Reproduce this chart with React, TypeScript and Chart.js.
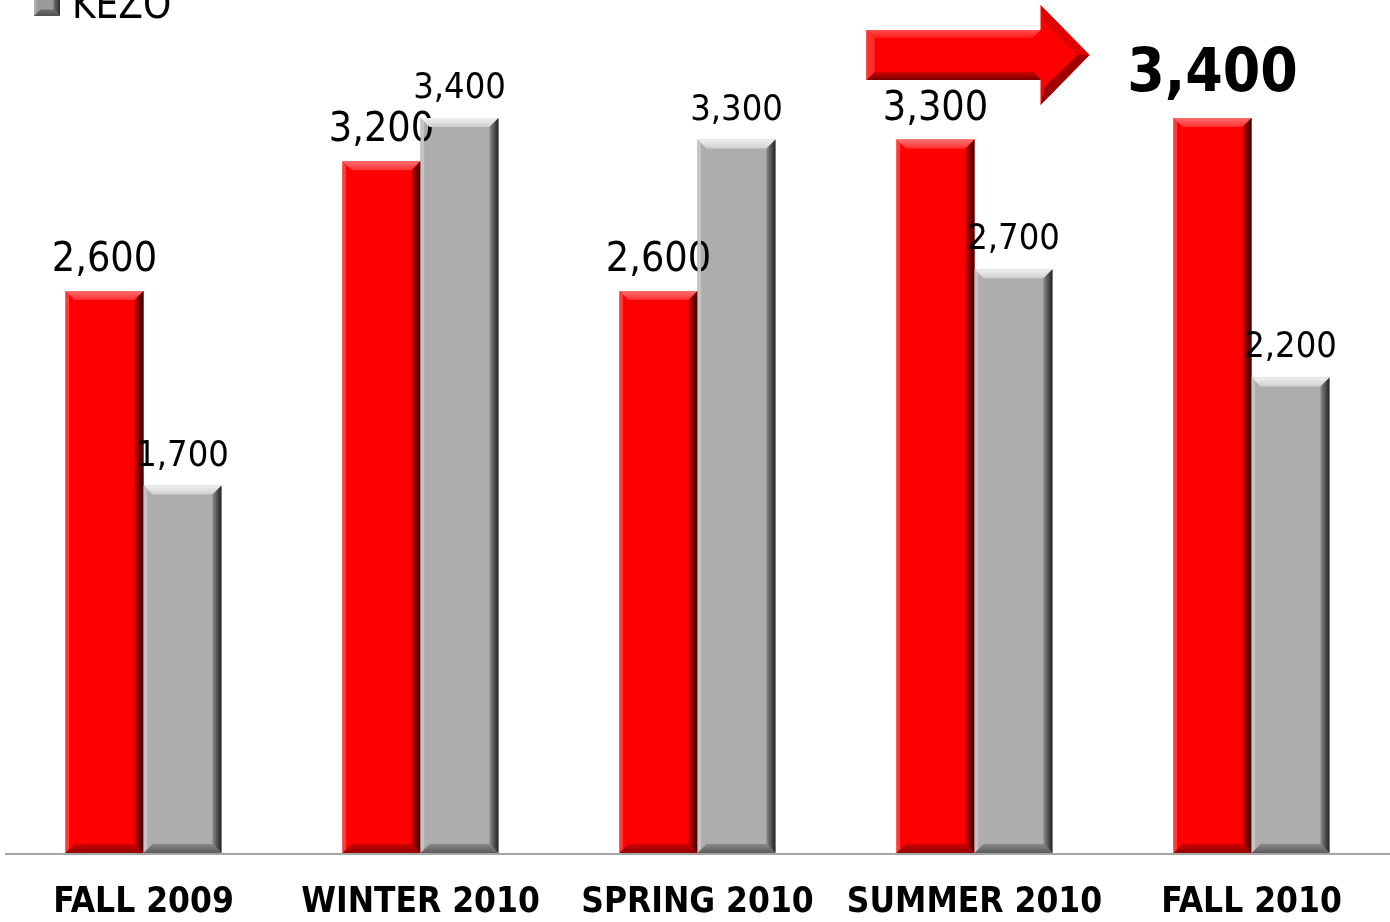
import React, { useEffect, useRef } from "react";
import { Chart, registerables } from "chart.js";

Chart.register(...registerables);

const categories = ["FALL 2009", "WINTER 2010", "SPRING 2010", "SUMMER 2010", "FALL 2010"];
const redValues = [2600, 3200, 2600, 3300, 3400];
const greyValues = [1700, 3400, 3300, 2700, 2200];
const legendLabel = "KEZO";
const highlightLabel = "3,400";

const RED = "#ff0000";
const GREY = "#adadad";
const FONT = "'DejaVu Sans Condensed', 'DejaVu Sans', sans-serif";

function fmt(v: number) {
  return v.toLocaleString("en-US");
}

function poly(ctx: CanvasRenderingContext2D, pts: number[][], fill: any) {
  ctx.beginPath();
  ctx.moveTo(pts[0][0], pts[0][1]);
  for (let i = 1; i < pts.length; i++) ctx.lineTo(pts[i][0], pts[i][1]);
  ctx.closePath();
  ctx.fillStyle = fill;
  ctx.fill();
}

function bevelRect(
  ctx: CanvasRenderingContext2D,
  l: number, t: number, r: number, bt: number,
  pal: { top: string; topEnd: string; left: string; right: string; rightEnd: string; bottom: string }
) {
  const b = Math.min(9, (r - l) / 4, (bt - t) / 2);
  const gt = ctx.createLinearGradient(0, t, 0, t + b);
  gt.addColorStop(0, pal.top);
  gt.addColorStop(1, pal.topEnd);
  poly(ctx, [[l, t], [r, t], [r - b, t + b], [l + b, t + b]], gt);
  poly(ctx, [[l, t], [l + b * 0.4, t + b * 0.4], [l + b * 0.4, bt - b * 0.4], [l, bt]], pal.left);
  const gr = ctx.createLinearGradient(r - b, 0, r, 0);
  gr.addColorStop(0, pal.right);
  gr.addColorStop(1, pal.rightEnd);
  poly(ctx, [[r, t], [r, bt], [r - b, bt - b], [r - b, t + b]], gr);
  const gb = ctx.createLinearGradient(0, bt - b, 0, bt);
  gb.addColorStop(0, pal.right);
  gb.addColorStop(1, pal.bottom);
  poly(ctx, [[l, bt], [r, bt], [r - b, bt - b], [l + b, bt - b]], gb);
}

const redPal = { top: "#ff7070", topEnd: "#ff3030", left: "#ff3a3a", right: "#d00000", rightEnd: "#300000", bottom: "#900000" };
const greyPal = { top: "#f0f0f0", topEnd: "#cfcfcf", left: "#c4c4c4", right: "#8a8a8a", rightEnd: "#202020", bottom: "#5a5a5a" };

const decorPlugin = {
  id: "decor",
  beforeDatasetsDraw(chart: any) {
    const ctx = chart.ctx as CanvasRenderingContext2D;
    const { left, right, bottom } = chart.chartArea;
    ctx.save();
    ctx.strokeStyle = "#a6a6a6";
    ctx.lineWidth = 2;
    ctx.beginPath();
    ctx.moveTo(left, bottom + 1);
    ctx.lineTo(right, bottom + 1);
    ctx.stroke();
    ctx.restore();
  },
  afterDatasetsDraw(chart: any) {
    const ctx = chart.ctx as CanvasRenderingContext2D;
    ctx.save();
    chart.data.datasets.forEach((ds: any, di: number) => {
      const meta = chart.getDatasetMeta(di);
      const pal = di === 0 ? redPal : greyPal;
      meta.data.forEach((el: any, i: number) => {
        const p = el.getProps(["x", "y", "base", "width"], true);
        const l = p.x - p.width / 2;
        const r = p.x + p.width / 2;
        bevelRect(ctx, l, p.y, r, p.base, pal);
        const v = ds.data[i];
        const isHighlight = di === 0 && i === ds.data.length - 1;
        ctx.fillStyle = "#000";
        ctx.textAlign = "center";
        ctx.textBaseline = "alphabetic";
        if (isHighlight) {
          ctx.font = `bold 60px ${FONT}`;
          ctx.fillText(highlightLabel, p.x, p.y - 27);
        } else {
          ctx.font = di === 0 ? `41px ${FONT}` : `36px ${FONT}`;
          ctx.fillText(fmt(v), p.x, p.y - 20);
        }
      });
    });

    // arrow between SUMMER 2010 and FALL 2010
    const xs = chart.scales.x;
    const ys = chart.scales.y;
    const x0 = xs.getPixelForValue(3) - 108;
    const xh = xs.getPixelForValue(4) - 211;
    const x1 = xs.getPixelForValue(4) - 162;
    const yc = ys.getPixelForValue(3400) - 63;
    const sh = 25;
    const hh = 50;
    const pts = [[x0, yc - sh], [xh, yc - sh], [xh, yc - hh], [x1, yc], [xh, yc + hh], [xh, yc + sh], [x0, yc + sh]];
    poly(ctx, pts, RED);
    const gtop = ctx.createLinearGradient(0, yc - sh, 0, yc - sh + 8);
    gtop.addColorStop(0, "#ff5050");
    gtop.addColorStop(1, "#ff1a1a");
    poly(ctx, [[x0, yc - sh], [xh, yc - sh], [xh - 8, yc - sh + 8], [x0 + 8, yc - sh + 8]], gtop);
    const gbot = ctx.createLinearGradient(0, yc + sh - 8, 0, yc + sh);
    gbot.addColorStop(0, "#d00000");
    gbot.addColorStop(1, "#7a0000");
    poly(ctx, [[x0, yc + sh], [xh, yc + sh], [xh - 6, yc + sh - 8], [x0 + 8, yc + sh - 8]], gbot);
    poly(ctx, [[x0, yc - sh], [x0 + 8, yc - sh + 8], [x0 + 8, yc + sh - 8], [x0, yc + sh]], "#ff3030");
    poly(ctx, [[xh, yc - hh], [x1, yc], [x1 - 12, yc], [xh + 4, yc - hh + 18]], "#e00000");
    poly(ctx, [[xh, yc + hh], [x1, yc], [x1 - 12, yc], [xh + 4, yc + hh - 18]], "#a00000");

    // legend (partially visible at top-left)
    ctx.textAlign = "left";
    ctx.textBaseline = "alphabetic";
    ctx.font = `40px ${FONT}`;
    ctx.fillStyle = "#000";
    ctx.fillText(legendLabel, 72, 18);
    ctx.fillStyle = "#9a9a9a";
    ctx.fillRect(34, -10, 26, 26);
    bevelRect(ctx, 34, -10, 60, 16, { top: "#e0e0e0", topEnd: "#bdbdbd", left: "#b0b0b0", right: "#707070", rightEnd: "#303030", bottom: "#505050" });
    ctx.restore();
  },
};

export default function App() {
  const ref = useRef<HTMLCanvasElement | null>(null);
  useEffect(() => {
    if (!ref.current) return;
    const chart = new Chart(ref.current, {
      type: "bar",
      data: {
        labels: categories,
        datasets: [
          { label: "Series 1", data: redValues, backgroundColor: RED, borderWidth: 0, categoryPercentage: 0.563, barPercentage: 1 },
          { label: legendLabel, data: greyValues, backgroundColor: GREY, borderWidth: 0, categoryPercentage: 0.563, barPercentage: 1 },
        ],
      },
      options: {
        animation: false,
        responsive: false,
        devicePixelRatio: 1,
        layout: { padding: { top: 118, left: 5, right: 0, bottom: -31 } },
        plugins: { legend: { display: false }, tooltip: { enabled: false } },
        scales: {
          x: {
            grid: { display: false, drawTicks: false },
            border: { display: false },
            ticks: { color: "#000", padding: 29, font: { family: FONT, weight: "bold", size: 35, lineHeight: 1.2 } },
          },
          y: { display: false, min: 0, max: 3400 },
        },
      },
      plugins: [decorPlugin],
    });
    return () => chart.destroy();
  }, []);
  return (
    <div style={{ position: "absolute", left: 0, top: 0, width: 1390, height: 922, background: "#fff", overflow: "hidden" }}>
      <canvas ref={ref} width={1390} height={922} />
    </div>
  );
}
